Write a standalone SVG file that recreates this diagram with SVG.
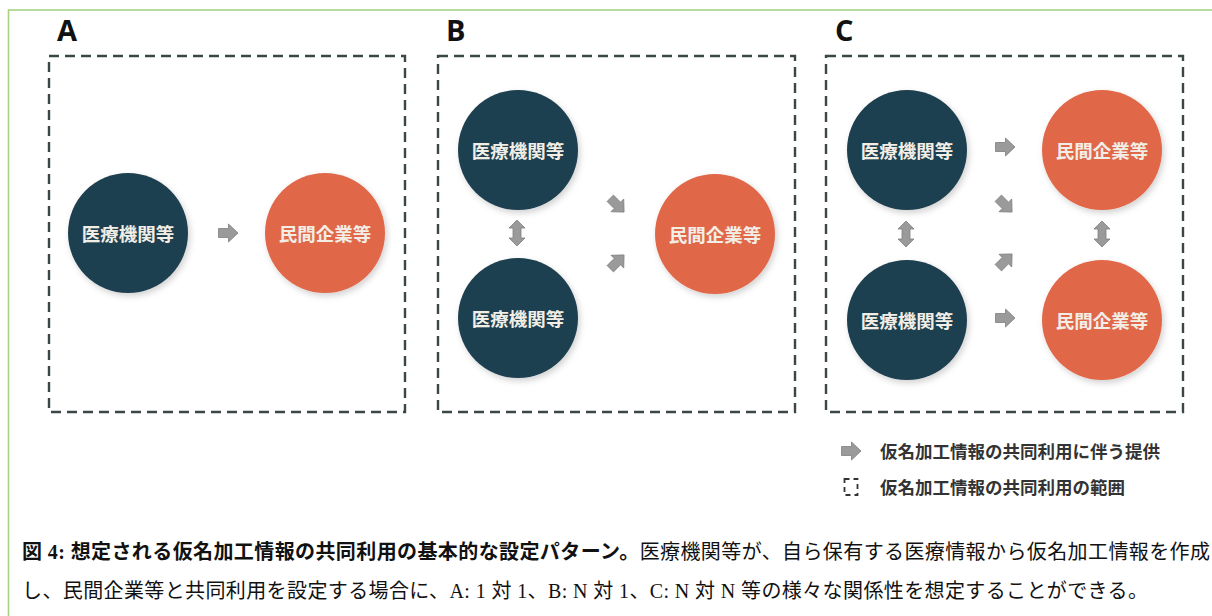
<svg xmlns="http://www.w3.org/2000/svg" width="1212" height="616" viewBox="0 0 1212 616">
<defs>
<style>
.frame{fill:none;stroke:#a6d384;stroke-width:1.6}
.box{fill:none;stroke:#3b4747;stroke-width:2.4;stroke-dasharray:10 6}
.panel{font-family:"Open Sans","Liberation Sans",sans-serif;font-weight:bold;font-size:29px;fill:#111}
.med{fill:#1f3f4f}
.com{fill:#e0684a}
.nt{font-family:"Noto Sans CJK JP",sans-serif;font-weight:bold;font-size:18.5px;fill:#f2eee6;text-anchor:middle;dominant-baseline:central}
.arr{fill:#9a9a9a;stroke:#7f7f7f;stroke-width:0.8}
.leg{font-family:"Noto Sans CJK JP",sans-serif;font-weight:bold;font-size:17.5px;fill:#333}
.cap{font-family:"Liberation Serif","Noto Sans CJK JP",serif;font-size:20px;fill:#111}
</style>
<filter id="sh" x="-20%" y="-20%" width="140%" height="140%">
<feDropShadow dx="2" dy="3" stdDeviation="3" flood-color="#000" flood-opacity="0.18"/>
</filter>
<path id="ar" d="M-9.5,-4.5 H0.5 V-9 L10,0 L0.5,9 V4.5 H-9.5 Z"/>
<path id="dar" d="M0,-13 L8,-5 H4 V5 H8 L0,13 L-8,5 H-4 V-5 H-8 Z"/>
</defs>
<rect class="frame" x="8.5" y="10" width="1220" height="620"/>

<text class="panel" x="57" y="41">A</text>
<text class="panel" x="446" y="41">B</text>
<text class="panel" x="835" y="41">C</text>

<rect class="box" x="49" y="56" width="356" height="356"/>
<rect class="box" x="438" y="56" width="357" height="356"/>
<rect class="box" x="826" y="56" width="357" height="356"/>

<g id="a-med"><circle class="med" cx="128" cy="233" r="60" filter="url(#sh)"/><text class="nt" x="128" y="233">医療機関等</text></g>
<g id="a-com"><circle class="com" cx="325" cy="233" r="60" filter="url(#sh)"/><text class="nt" x="325" y="233">民間企業等</text></g>

<g id="b-med1"><circle class="med" cx="518" cy="150" r="60" filter="url(#sh)"/><text class="nt" x="518" y="150">医療機関等</text></g>
<g id="b-med2"><circle class="med" cx="518" cy="318" r="60" filter="url(#sh)"/><text class="nt" x="518" y="318">医療機関等</text></g>
<g id="b-com"><circle class="com" cx="715" cy="234" r="60" filter="url(#sh)"/><text class="nt" x="715" y="234">民間企業等</text></g>

<g id="c-med1"><circle class="med" cx="907" cy="150" r="60" filter="url(#sh)"/><text class="nt" x="907" y="150">医療機関等</text></g>
<g id="c-med2"><circle class="med" cx="907" cy="320" r="60" filter="url(#sh)"/><text class="nt" x="907" y="320">医療機関等</text></g>
<g id="c-com1"><circle class="com" cx="1102" cy="150" r="60" filter="url(#sh)"/><text class="nt" x="1102" y="150">民間企業等</text></g>
<g id="c-com2"><circle class="com" cx="1102" cy="320" r="60" filter="url(#sh)"/><text class="nt" x="1102" y="320">民間企業等</text></g>

<g id="connectors">
<use href="#ar" class="arr" transform="translate(228,233)"/>
<use href="#dar" class="arr" transform="translate(517,233)"/>
<use href="#ar" class="arr" transform="translate(617,205) rotate(45)"/>
<use href="#ar" class="arr" transform="translate(617,262) rotate(-45)"/>
<use href="#ar" class="arr" transform="translate(1005,147)"/>
<use href="#ar" class="arr" transform="translate(1005,205) rotate(45)"/>
<use href="#ar" class="arr" transform="translate(1005,261) rotate(-45)"/>
<use href="#ar" class="arr" transform="translate(1005,318)"/>
<use href="#dar" class="arr" transform="translate(906,234)"/>
<use href="#dar" class="arr" transform="translate(1102,234)"/>
</g>

<g id="legend">
<use href="#ar" class="arr" transform="translate(851,451)"/>
<text class="leg" x="880" y="458">仮名加工情報の共同利用に伴う提供</text>
<rect x="844.5" y="479" width="13" height="16" fill="none" stroke="#333" stroke-width="1.8" stroke-dasharray="5 4"/>
<text class="leg" x="880" y="494">仮名加工情報の共同利用の範囲</text>
</g>

<text class="cap" x="22" y="559" textLength="1188" lengthAdjust="spacing"><tspan font-weight="bold">図 4: 想定される仮名加工情報の共同利用の基本的な設定パターン。</tspan>医療機関等が、自ら保有する医療情報から仮名加工情報を作成</text>
<text class="cap" x="22" y="598" textLength="1126" lengthAdjust="spacing">し、民間企業等と共同利用を設定する場合に、A: 1 対 1、B: N 対 1、C: N 対 N 等の様々な関係性を想定することができる。</text>
</svg>
